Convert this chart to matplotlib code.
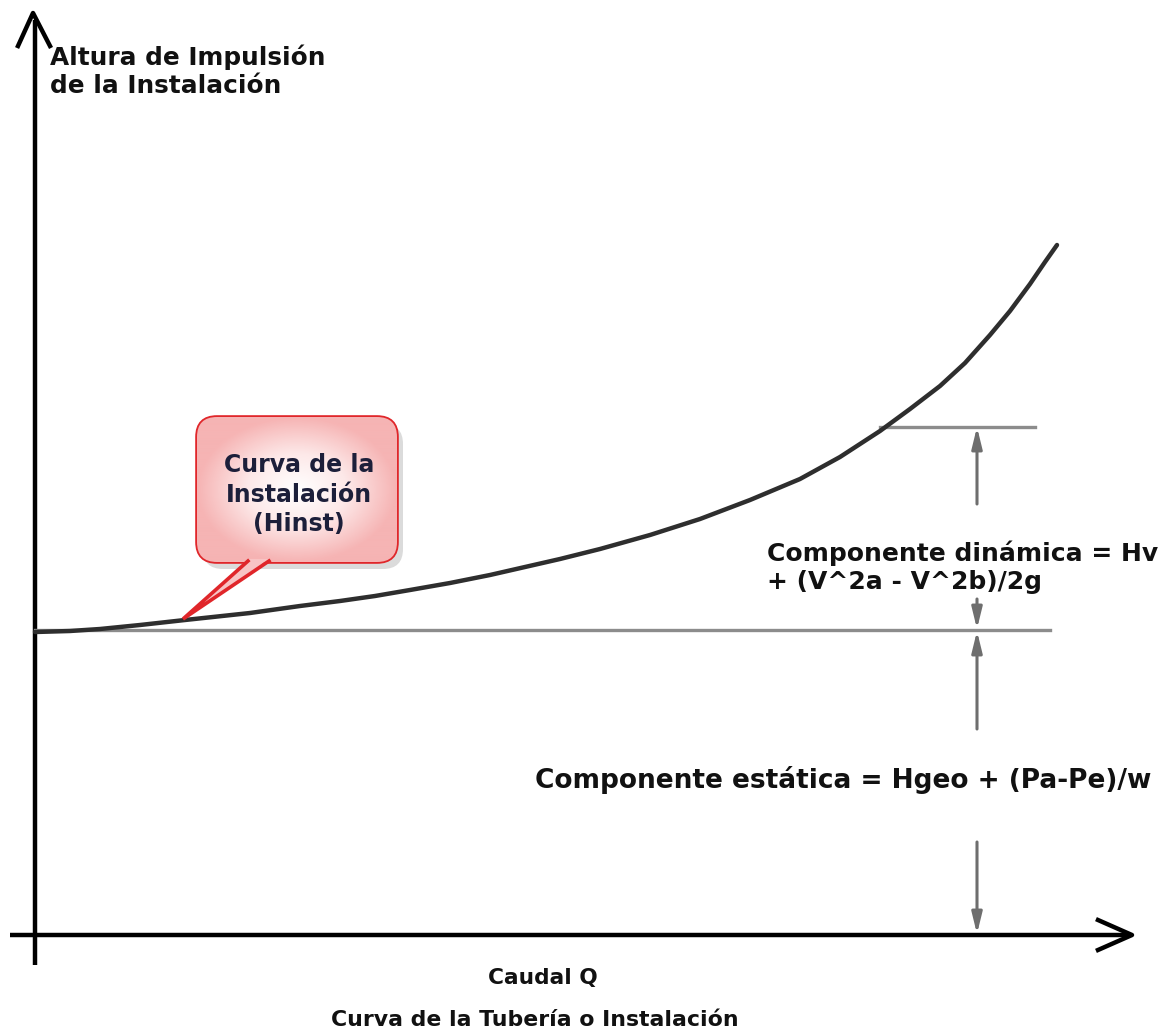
import numpy as np
import matplotlib
matplotlib.use("Agg")
import matplotlib.pyplot as plt
from matplotlib.patches import FancyBboxPatch, Polygon

# curva de la instalacion (Q, H), origen en el cruce de ejes
caudal = [0, 35, 65, 105, 150, 215, 265, 305, 340, 375, 415, 455, 490, 525, 565,
          615, 665, 715, 765, 805, 845, 875, 905, 930, 955, 975, 995, 1010, 1022]
altura = [303, 304, 306, 310, 315, 322, 329, 334, 339, 345, 352, 360, 368, 376, 386,
          400, 416, 435, 456, 478, 504, 526, 549, 572, 600, 624, 651, 673, 690]

h_estatica = 305
q_estatica_fin = 1015
h_dinamica = 508
q_dinamica = [845, 1000]
q_cota = 942

txt_eje_y = "Altura de Impulsión\nde la Instalación"
txt_eje_x = "Caudal Q"
txt_titulo = "Curva de la Tubería o Instalación"
txt_burbuja = "Curva de la\nInstalación\n(Hinst)"
txt_dinamica = "Componente dinámica = Hv\n+ (V^2a - V^2b)/2g"
txt_estatica = "Componente estática = Hgeo + (Pa-Pe)/w"

plt.rcParams['font.family'] = ['DejaVu Sans']

fig = plt.figure(figsize=(11.64, 10.36), dpi=100)
ax = fig.add_axes([0, 0, 1, 1])
ax.set_xlim(-35, 1129)
ax.set_ylim(-101, 935)
ax.axis('off')

# ejes con flecha abierta
ax.plot([0, 0], [-30, 915], color='black', lw=3.2, solid_capstyle='butt')
ax.plot([-17, -2, 15], [889, 922, 889], color='black', lw=3.2)
ax.plot([-25, 1094], [0, 0], color='black', lw=3.2, solid_capstyle='butt')
ax.plot([1063, 1097, 1063], [15, 0, -15], color='black', lw=3.2)

# lineas horizontales de referencia
ax.plot([0, q_estatica_fin], [h_estatica, h_estatica], color='#8c8c8c', lw=2.4)
ax.plot(q_dinamica, [h_dinamica, h_dinamica], color='#8c8c8c', lw=2.4)

# curva
ax.plot(caudal, altura, color='#2e2e2e', lw=3.2, solid_capstyle='round',
        solid_joinstyle='round')

# cotas
flecha = dict(arrowstyle='-|>,head_length=0.9,head_width=0.22', color='#6e6e6e',
              lw=2.2, shrinkA=0, shrinkB=0, mutation_scale=14)
tramos = [(431, h_dinamica), (336, h_estatica + 1), (206, h_estatica - 1), (93, 1)]
for y0, y1 in tramos:
    ax.annotate('', xy=(q_cota, y1), xytext=(q_cota, y0), arrowprops=flecha)

# burbuja
bx0, bx1, by0, by1 = 162, 362, 373, 518
sombra = FancyBboxPatch((bx0 + 6, by0 - 7), bx1 - bx0, by1 - by0,
                        boxstyle='round,pad=0,rounding_size=20',
                        fc='#b0b0b0', ec='none', alpha=0.45, zorder=3)
ax.add_patch(sombra)
caja = FancyBboxPatch((bx0, by0), bx1 - bx0, by1 - by0,
                      boxstyle='round,pad=0,rounding_size=20',
                      fc='#fbd3d3', ec='#e0262a', lw=2.6, zorder=4)
ax.add_patch(caja)
gx, gy = np.meshgrid(np.linspace(-1, 1, 200), np.linspace(-1, 1, 150))
grad = np.clip(np.sqrt(gx ** 2 + gy ** 2), 0, 1)
img = ax.imshow(grad, cmap=matplotlib.colors.LinearSegmentedColormap.from_list(
    'b', ['#ffffff', '#fde8e8', '#f6b4b4']), extent=(bx0, bx1, by0, by1),
    aspect='auto', zorder=4.5, origin='lower')
img.set_clip_path(caja)
cola = Polygon([(213, by0 + 3), (148, 316), (234, by0 + 3)], closed=True,
               fc='#f8c4c4', ec='none', zorder=4.6)
ax.add_patch(cola)
ax.plot([213, 148, 234], [by0 + 1, 316, by0 + 1], color='#e0262a', lw=2.6,
        zorder=4.7, solid_joinstyle='miter')
ax.text((bx0 + bx1) / 2 + 2, (by0 + by1) / 2 - 5, txt_burbuja, ha='center',
        va='center', fontsize=17, fontweight='bold', color='#1c1f3a',
        linespacing=1.3, zorder=6)

# textos
kw = dict(fontweight='bold', color='#111111')
ax.text(15, 891, txt_eje_y, ha='left', va='top', linespacing=1.25, fontsize=17.8, **kw)
ax.text(732, 368, txt_dinamica, ha='left', va='center', linespacing=1.2,
        fontsize=18, **kw)
ax.text(500, 155, txt_estatica, ha='left', va='center', fontsize=19, **kw)
ax.text(508, -43, txt_eje_x, ha='center', va='center', fontsize=15.6, **kw)
ax.text(500, -85, txt_titulo, ha='center', va='center', fontsize=15.8, **kw)

fig.savefig('out.png', dpi=100)
